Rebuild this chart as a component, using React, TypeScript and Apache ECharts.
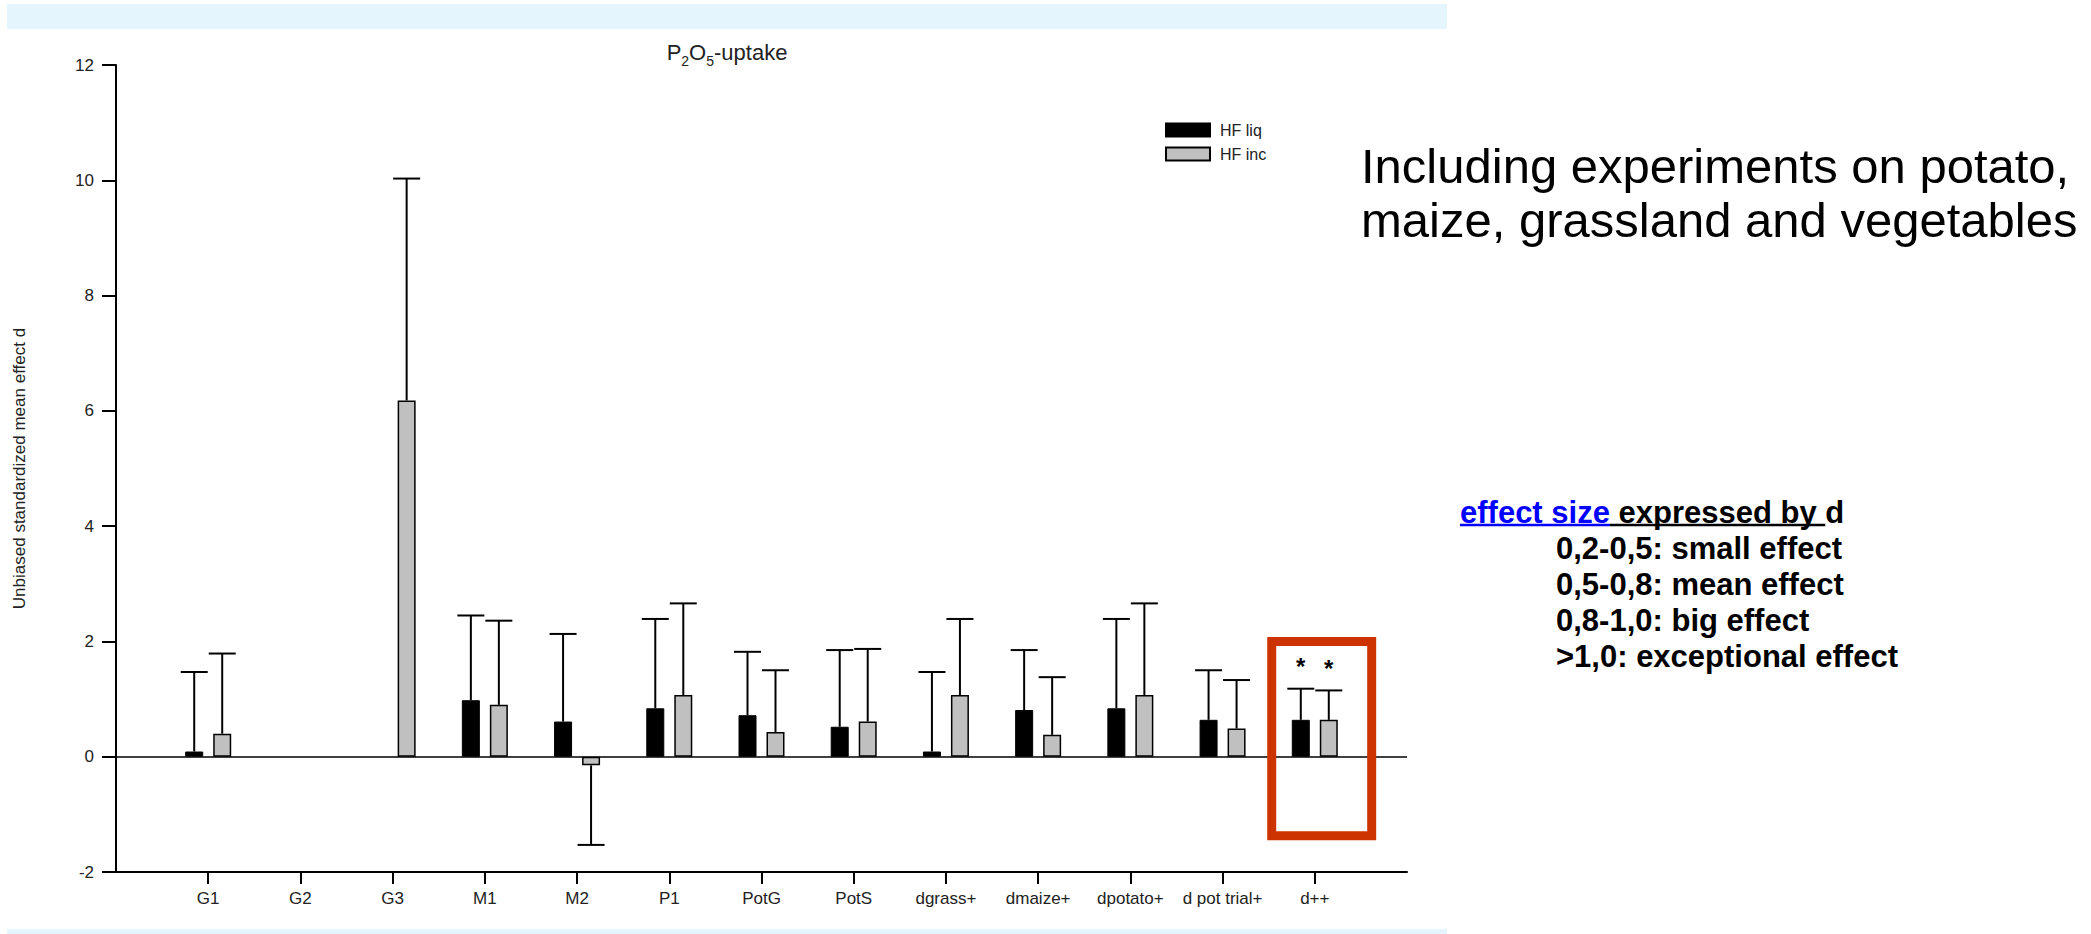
import React, { useEffect, useRef } from 'react';
import * as echarts from 'echarts';

// ---- data ----
const categories = ['G1', 'G2', 'G3', 'M1', 'M2', 'P1', 'PotG', 'PotS', 'dgrass+', 'dmaize+', 'dpotato+', 'd pot trial+', 'd++'];
const seriesNames = ['HF liq', 'HF inc'];
const hfLiqMean = [0.09, null, null, 0.98, 0.61, 0.84, 0.72, 0.52, 0.09, 0.81, 0.84, 0.64, 0.64];
const hfLiqErrorEnd = [1.47, null, null, 2.45, 2.13, 2.39, 1.82, 1.85, 1.47, 1.85, 2.39, 1.5, 1.18];
const hfIncMean = [0.4, null, 6.18, 0.9, -0.15, 1.07, 0.43, 0.61, 1.07, 0.38, 1.07, 0.49, 0.64];
const hfIncErrorEnd = [1.79, null, 10.03, 2.36, -1.53, 2.66, 1.5, 1.87, 2.39, 1.38, 2.66, 1.33, 1.15];
const hfLiqSignificance = ['', '', '', '', '', '', '', '', '', '', '', '', '*'];
const hfIncSignificance = ['', '', '', '', '', '', '', '', '', '', '', '', '*'];
const yAxisMin = -2;
const yAxisMax = 12;
const yAxisStep = 2;
const yAxisName = 'Unbiased standardized mean effect d';
const highlightCategory = 'd++';
const highlightRange = [-1.37, 2.0];
const noteLines = ['Including experiments on potato,', 'maize, grassland and vegetables'];
const effectHeading = ['effect size', ' expressed by ', 'd'];
const effectLines = ['0,2-0,5: small effect', '0,5-0,8: mean effect', '0,8-1,0: big effect', '>1,0: exceptional effect'];

const FONT = '"Liberation Sans", Arial, Helvetica, sans-serif';
const BAR_WIDTH = 18;
const BAR_GAP_PX = 10;

const axisCategories = ['', ...categories, ''];
const pad = (arr: (number | null)[]) => ['-', ...arr.map((v) => (v == null ? '-' : v)), '-'];

type ErrItem = { value: number[]; sig: string };
const buildErr = (means: (number | null)[], ends: (number | null)[], sigs: string[]): ErrItem[] => {
  const out: ErrItem[] = [];
  means.forEach((m, i) => {
    const e = ends[i];
    if (m != null && e != null) out.push({ value: [i + 1, e, m], sig: sigs[i] });
  });
  return out;
};

const measure = (text: string, font: string) => {
  const c = document.createElement('canvas').getContext('2d');
  if (!c) return text.length * 16;
  c.font = font;
  return c.measureText(text).width;
};

export default function App() {
  const ref = useRef<HTMLDivElement>(null);

  useEffect(() => {
    if (!ref.current) return;
    const chart = echarts.init(ref.current, null, { renderer: 'svg' });

    const liqErr = buildErr(hfLiqMean, hfLiqErrorEnd, hfLiqSignificance);
    const incErr = buildErr(hfIncMean, hfIncErrorEnd, hfIncSignificance);
    const offset = (BAR_WIDTH + BAR_GAP_PX) / 2;

    const errSeries = (items: ErrItem[], dx: number) => ({
      type: 'custom',
      z: 5,
      silent: true,
      coordinateSystem: 'cartesian2d',
      encode: { x: 0, y: 1 },
      data: items.map((d) => d.value),
      renderItem: (params: any, api: any) => {
        const idx = api.value(0);
        const end = api.value(1);
        const base = api.value(2);
        const pTop = api.coord([idx, end]);
        const pBase = api.coord([idx, base]);
        const x = pTop[0] + dx;
        const children: any[] = [
          { type: 'line', shape: { x1: x, y1: pBase[1], x2: x, y2: pTop[1] }, style: { stroke: '#000', lineWidth: 2 } },
          { type: 'line', shape: { x1: x - 13.5, y1: pTop[1], x2: x + 13.5, y2: pTop[1] }, style: { stroke: '#000', lineWidth: 2 } },
        ];
        const sig = items[params.dataIndex].sig;
        if (sig) {
          children.push({
            type: 'text',
            x,
            y: pTop[1] - 22,
            style: { text: sig, fontSize: 24, fontWeight: 'bold', fontFamily: FONT, fill: '#000', align: 'center', verticalAlign: 'middle' },
          });
        }
        return { type: 'group', children };
      },
    });

    const hlIndex = categories.indexOf(highlightCategory) + 1;
    const highlightSeries = {
      type: 'custom',
      z: 6,
      silent: true,
      coordinateSystem: 'cartesian2d',
      encode: { x: 0, y: 1 },
      data: [[hlIndex, highlightRange[1], highlightRange[0]]],
      renderItem: (params: any, api: any) => {
        const pTop = api.coord([api.value(0), api.value(1)]);
        const pBot = api.coord([api.value(0), api.value(2)]);
        const band = api.size([1, 0])[0];
        return {
          type: 'rect',
          shape: { x: pTop[0] - 0.467 * band, y: pTop[1], width: 1.084 * band, height: pBot[1] - pTop[1] },
          style: { fill: 'none', stroke: '#CC3300', lineWidth: 9 },
        };
      },
    };

    const effFont = `bold 31px ${FONT}`;
    const w1 = measure(effectHeading[0], effFont);
    const w2 = measure(effectHeading[1], effFont);
    const effX = 1460;
    const effY = 512;
    const effLineH = 36;
    const underlineY = effY + 13;

    const option: any = {
      animation: false,
      backgroundColor: '#fff',
      textStyle: { fontFamily: FONT },
      grid: { left: 116, top: 65, width: 1291, height: 807, containLabel: false },
      legend: {
        data: seriesNames,
        orient: 'vertical',
        left: 1160,
        top: 117,
        itemWidth: 44,
        itemHeight: 13,
        itemGap: 8,
        icon: 'rect',
        selectedMode: false,
        textStyle: { fontSize: 16, color: '#222', fontFamily: FONT, padding: [0, 0, 0, 5] },
      },
      xAxis: {
        type: 'category',
        data: axisCategories,
        boundaryGap: false,
        axisLine: { onZero: false, lineStyle: { color: '#000', width: 2 } },
        axisTick: {
          length: 12,
          lineStyle: { color: '#000', width: 2 },
          interval: (i: number) => i > 0 && i < axisCategories.length - 1,
        },
        axisLabel: { interval: 0, fontSize: 17, color: '#222', margin: 18, fontFamily: FONT },
        splitLine: { show: false },
      },
      yAxis: {
        type: 'value',
        min: yAxisMin,
        max: yAxisMax,
        interval: yAxisStep,
        name: yAxisName,
        nameLocation: 'middle',
        nameGap: 88,
        nameTextStyle: { fontSize: 17, color: '#222', fontFamily: FONT },
        axisLine: { show: true, lineStyle: { color: '#000', width: 2 } },
        axisTick: { show: true, length: 14, lineStyle: { color: '#000', width: 2 } },
        axisLabel: { fontSize: 17, color: '#222', margin: 22, fontFamily: FONT },
        splitLine: { show: false },
      },
      series: [
        {
          name: seriesNames[0],
          type: 'bar',
          data: pad(hfLiqMean),
          barWidth: BAR_WIDTH,
          barGap: `${(BAR_GAP_PX / BAR_WIDTH) * 100}%`,
          itemStyle: { color: '#000', borderColor: '#000', borderWidth: 1 },
          silent: true,
          z: 2,
          markLine: {
            silent: true,
            symbol: 'none',
            label: { show: false },
            lineStyle: { color: '#000', width: 1.5, type: 'solid' },
            data: [{ yAxis: 0 }],
          },
        },
        {
          name: seriesNames[1],
          type: 'bar',
          data: pad(hfIncMean),
          barWidth: BAR_WIDTH,
          barGap: `${(BAR_GAP_PX / BAR_WIDTH) * 100}%`,
          itemStyle: { color: '#C0C0C0', borderColor: '#000', borderWidth: 1.5 },
          silent: true,
          z: 2,
        },
        errSeries(liqErr, -offset),
        errSeries(incErr, offset),
        highlightSeries,
      ],
      graphic: [
        { type: 'rect', silent: true, shape: { x: 7, y: 4, width: 1440, height: 25 }, style: { fill: '#E5F5FD' } },
        { type: 'rect', silent: true, shape: { x: 7, y: 929, width: 1440, height: 5 }, style: { fill: '#E5F5FD' } },
        {
          type: 'text',
          x: 727,
          y: 52,
          style: {
            text: '{n|P}{s|2}{n|O}{s|5}{n|-uptake}',
            align: 'center',
            verticalAlign: 'middle',
            fontFamily: FONT,
            rich: {
              n: { fontSize: 22, lineHeight: 32, verticalAlign: 'middle', fill: '#222', fontFamily: FONT },
              s: { fontSize: 14, lineHeight: 13, verticalAlign: 'bottom', fill: '#222', fontFamily: FONT },
            },
          },
        },
        ...noteLines.map((t, i) => ({
          type: 'text',
          x: 1361,
          y: 166 + i * 54,
          style: { text: t, fontSize: 49, fontFamily: FONT, fill: '#000', verticalAlign: 'middle', align: 'left' },
        })),
        {
          type: 'text',
          x: effX,
          y: effY,
          style: {
            text: `{a|${effectHeading[0]}}{b|${effectHeading[1]}${effectHeading[2]}}`,
            verticalAlign: 'middle',
            align: 'left',
            rich: {
              a: { fontSize: 31, fontWeight: 'bold', fontFamily: FONT, fill: '#0000FF' },
              b: { fontSize: 31, fontWeight: 'bold', fontFamily: FONT, fill: '#000' },
            },
          },
        },
        { type: 'line', silent: true, shape: { x1: effX, y1: underlineY, x2: effX + w1, y2: underlineY }, style: { stroke: '#0000FF', lineWidth: 2.5 } },
        { type: 'line', silent: true, shape: { x1: effX + w1, y1: underlineY, x2: effX + w1 + w2, y2: underlineY }, style: { stroke: '#000', lineWidth: 2.5 } },
        ...effectLines.map((t, i) => ({
          type: 'text',
          x: 1556,
          y: effY + (i + 1) * effLineH,
          style: { text: t, fontSize: 31, fontWeight: 'bold', fontFamily: FONT, fill: '#000', verticalAlign: 'middle', align: 'left' },
        })),
      ],
    };

    chart.setOption(option);
    return () => chart.dispose();
  }, []);

  return <div ref={ref} style={{ position: 'absolute', left: 0, top: 0, width: 2091, height: 934, background: '#fff' }} />;
}
